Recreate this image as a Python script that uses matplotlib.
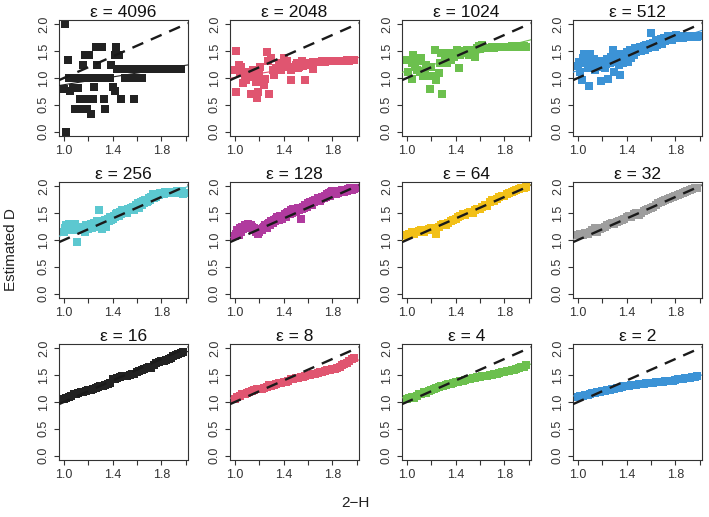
import matplotlib
matplotlib.use("Agg")
import matplotlib.pyplot as plt
import numpy as np

plt.rcParams['font.family'] = ['Liberation Sans', 'DejaVu Sans']

# panel labels and colours (R palette, as seen in the picture)
eps_labels = ["4096", "2048", "1024", "512", "256", "128", "64", "32", "16", "8", "4", "2"]
colors = ["#222222", "#E05570", "#6CC04E", "#3C93D6", "#5CC8D0", "#B03A9E",
          "#F2C018", "#9E9E9E", "#222222", "#E05570", "#6CC04E", "#3C93D6"]

# shared x grids (2-H)
x_fine = [1.00, 1.01, 1.02, 1.03, 1.04, 1.05, 1.06, 1.07, 1.08, 1.09,
          1.10, 1.11, 1.12, 1.13, 1.14, 1.15, 1.16, 1.17, 1.18, 1.19,
          1.20, 1.21, 1.22, 1.23, 1.24, 1.25, 1.26, 1.27, 1.28, 1.29,
          1.30, 1.31, 1.32, 1.33, 1.34, 1.35, 1.36, 1.37, 1.38, 1.39,
          1.40, 1.41, 1.42, 1.43, 1.44, 1.45, 1.46, 1.47, 1.48, 1.49,
          1.50, 1.51, 1.52, 1.53, 1.54, 1.55, 1.56, 1.57, 1.58, 1.59,
          1.60, 1.61, 1.62, 1.63, 1.64, 1.65, 1.66, 1.67, 1.68, 1.69,
          1.70, 1.71, 1.72, 1.73, 1.74, 1.75, 1.76, 1.77, 1.78, 1.79,
          1.80, 1.81, 1.82, 1.83, 1.84, 1.85, 1.86, 1.87, 1.88, 1.89,
          1.90, 1.91, 1.92, 1.93, 1.94, 1.95, 1.96, 1.97, 1.98, 1.99]
x_coarse = [1.00, 1.02, 1.04, 1.06, 1.08, 1.10, 1.12, 1.14, 1.16, 1.18,
            1.20, 1.22, 1.24, 1.26, 1.28, 1.30, 1.32, 1.34, 1.36, 1.38,
            1.40, 1.42, 1.44, 1.46, 1.48, 1.50, 1.52, 1.54, 1.56, 1.58,
            1.60, 1.62, 1.64, 1.66, 1.68, 1.70, 1.72, 1.74, 1.76, 1.78,
            1.80, 1.82, 1.84, 1.86, 1.88, 1.90, 1.92, 1.94, 1.96, 1.98]

# eps = 4096
x_4096 = [1.01, 1.02, 1.03, 1.00, 1.05, 1.075, 1.04, 1.06, 1.08, 1.10,
          1.12, 1.14, 1.16, 1.12, 1.09, 1.13, 1.14, 1.16, 1.17, 1.18,
          1.19, 1.21, 1.21, 1.22, 1.21, 1.24, 1.25, 1.23, 1.26, 1.27,
          1.31, 1.30, 1.32, 1.34, 1.36, 1.38, 1.33, 1.34, 1.39, 1.40,
          1.42, 1.43, 1.42, 1.45, 1.44, 1.47, 1.50, 1.52, 1.54, 1.58,
          1.60, 1.62, 1.64,
          1.46, 1.48, 1.50, 1.52, 1.54, 1.56, 1.58, 1.60, 1.62, 1.64,
          1.66, 1.68, 1.70, 1.72, 1.74, 1.76, 1.78, 1.80, 1.82, 1.84,
          1.86, 1.88, 1.90, 1.92, 1.94, 1.96]
y_4096 = [2.00, 0.00, 1.33, 0.80, 0.76, 0.82, 1.00, 1.00, 1.00, 1.00,
          1.00, 1.00, 1.00, 0.82, 0.43, 0.60, 0.43, 1.25, 1.42, 0.60,
          0.43, 1.42, 0.60, 0.33, 1.00, 0.60, 0.83, 1.00, 1.58, 1.25,
          1.58, 1.00, 1.00, 1.00, 1.00, 1.00, 0.60, 0.42, 1.25, 0.83,
          0.75, 1.58, 1.42, 1.42, 1.17, 0.60, 1.00, 1.00, 1.00, 0.60,
          1.00, 1.00, 1.00,
          1.17, 1.17, 1.17, 1.17, 1.17, 1.17, 1.17, 1.17, 1.17, 1.17,
          1.17, 1.17, 1.17, 1.17, 1.17, 1.17, 1.17, 1.17, 1.17, 1.17,
          1.17, 1.17, 1.17, 1.17, 1.17, 1.17]

# eps = 2048
x_2048 = [1.00, 1.01, 1.01, 1.03, 1.04, 1.05, 1.07, 1.08, 1.09, 1.10,
          1.13, 1.14, 1.15, 1.17, 1.18, 1.19, 1.20, 1.21, 1.23, 1.24,
          1.25, 1.26, 1.27, 1.28, 1.30, 1.31, 1.32, 1.34, 1.36, 1.38,
          1.40, 1.42, 1.43, 1.44, 1.46, 1.46, 1.48, 1.50, 1.51, 1.52,
          1.53, 1.55, 1.56, 1.58, 1.60, 1.62, 1.64,
          1.62, 1.64, 1.66, 1.68, 1.70, 1.72, 1.74, 1.76, 1.78, 1.80,
          1.82, 1.84, 1.86, 1.88, 1.90, 1.92, 1.94, 1.96, 1.98]
y_2048 = [1.14, 1.50, 0.74, 1.25, 1.12, 1.21, 0.91, 1.03, 0.96, 1.12,
          0.71, 1.01, 1.15, 0.93, 0.62, 0.74, 1.06, 1.21, 0.96, 0.87,
          0.98, 1.48, 1.31, 0.71, 1.37, 1.15, 1.06, 1.18, 1.28, 1.15,
          1.37, 1.25, 1.31, 1.20, 0.96, 1.15, 1.21, 1.25, 1.28, 1.18,
          1.21, 1.31, 1.22, 0.96, 1.25, 1.28, 1.17,
          1.28, 1.29, 1.30, 1.29, 1.30, 1.31, 1.30, 1.31, 1.31, 1.32,
          1.31, 1.32, 1.32, 1.31, 1.32, 1.33, 1.32, 1.33, 1.33]

# eps = 1024
x_1024 = [1.00, 1.01, 1.04, 1.04, 1.05, 1.07, 1.08, 1.09, 1.11, 1.12,
          1.13, 1.15, 1.16, 1.17, 1.19, 1.20, 1.21, 1.23, 1.24, 1.26,
          1.27, 1.28, 1.29, 1.31, 1.33, 1.35, 1.36, 1.37, 1.39, 1.41,
          1.43, 1.44, 1.47, 1.49, 1.51, 1.53, 1.56, 1.59, 1.62, 1.45,
          1.48, 1.52, 1.55, 1.58,
          1.60, 1.62, 1.64, 1.66, 1.68, 1.70, 1.72, 1.74, 1.76, 1.78,
          1.80, 1.82, 1.84, 1.86, 1.88, 1.90, 1.92, 1.94, 1.96, 1.98]
y_1024 = [1.34, 1.12, 0.99, 1.28, 1.43, 1.21, 1.15, 1.31, 1.12, 1.37,
          1.03, 1.12, 1.25, 1.03, 0.80, 1.21, 1.03, 1.53, 0.96, 1.09,
          1.28, 1.47, 0.71, 1.37, 1.28, 1.47, 1.34, 1.43, 1.40, 1.53,
          1.18, 1.43, 1.47, 1.53, 1.43, 1.53, 1.40, 1.59, 1.62, 1.48,
          1.50, 1.46, 1.52, 1.55,
          1.54, 1.55, 1.56, 1.55, 1.56, 1.57, 1.56, 1.57, 1.58, 1.57,
          1.58, 1.58, 1.57, 1.59, 1.58, 1.59, 1.58, 1.59, 1.59, 1.58]

# eps = 512, 256, 128 on x_fine
y_512 = [1.22, 1.30, 1.12, 0.96, 1.38, 1.45, 1.28, 1.40, 1.18, 0.85,
         1.45, 1.30, 1.22, 1.35, 1.15, 1.28, 1.20, 1.25, 1.32, 0.95,
         1.22, 1.30, 1.18, 1.26, 1.35, 0.98, 1.28, 1.40, 1.30, 1.52,
         1.12, 1.45, 1.30, 1.38, 1.25, 1.06, 1.35, 1.28, 1.45, 1.40,
         1.48, 1.30, 1.45, 1.52, 1.38, 1.50, 1.42, 1.55, 1.48, 1.50,
         1.52, 1.58, 1.50, 1.55, 1.60, 1.52, 1.62, 1.58, 1.55, 1.63,
         1.84, 1.60, 1.65, 1.58, 1.68, 1.62, 1.70, 1.66, 1.72, 1.64,
         1.70, 1.75, 1.68, 1.74, 1.78, 1.72, 1.76, 1.70, 1.78, 1.74,
         1.76, 1.80, 1.74, 1.78, 1.76, 1.79, 1.75, 1.77, 1.78, 1.76,
         1.77, 1.78, 1.76, 1.79, 1.77, 1.78, 1.76, 1.78, 1.77, 1.78]
y_256 = [1.15, 1.22, 1.28, 1.18, 1.30, 1.25, 1.20, 1.28, 1.22, 1.30,
         1.18, 0.97, 1.25, 1.22, 1.20, 1.18, 1.25, 1.15, 1.28, 1.22,
         1.20, 1.25, 1.30, 1.22, 1.28, 1.32, 1.25, 1.35, 1.30, 1.56,
         1.28, 1.20, 1.35, 1.30, 1.38, 1.25, 1.40, 1.35, 1.42, 1.38,
         1.40, 1.45, 1.42, 1.48, 1.50, 1.45, 1.52, 1.48, 1.55, 1.50,
         1.52, 1.55, 1.50, 1.58, 1.55, 1.60, 1.58, 1.62, 1.55, 1.65,
         1.62, 1.68, 1.60, 1.70, 1.65, 1.72, 1.68, 1.75, 1.70, 1.72,
         1.78, 1.75, 1.80, 1.85, 1.78, 1.82, 1.80, 1.86, 1.84, 1.88,
         1.85, 1.88, 1.86, 1.90, 1.87, 1.89, 1.88, 1.90, 1.87, 1.89,
         1.88, 1.90, 1.89, 1.91, 1.88, 1.90, 1.89, 1.91, 1.85, 1.88]
y_128 = [1.08, 1.12, 1.18, 1.10, 1.22, 1.15, 1.25, 1.20, 1.28, 1.22,
         1.25, 1.30, 1.22, 1.28, 1.25, 1.20, 1.22, 1.15, 1.18, 1.12,
         1.15, 1.20, 1.18, 1.22, 1.25, 1.28, 1.22, 1.30, 1.32, 1.28,
         1.35, 1.32, 1.38, 1.35, 1.40, 1.42, 1.38, 1.45, 1.42, 1.40,
         1.45, 1.48, 1.42, 1.50, 1.52, 1.48, 1.55, 1.50, 1.58, 1.55,
         1.52, 1.58, 1.60, 1.55, 1.40, 1.58, 1.62, 1.60, 1.65, 1.62,
         1.68, 1.65, 1.70, 1.66, 1.72, 1.70, 1.75, 1.72, 1.78, 1.74,
         1.72, 1.76, 1.80, 1.78, 1.82, 1.80, 1.85, 1.88, 1.82, 1.90,
         1.92, 1.85, 1.88, 1.86, 1.90, 1.88, 1.92, 1.90, 1.94, 1.92,
         1.90, 1.94, 1.92, 1.95, 1.93, 1.96, 1.94, 1.97, 1.95, 1.96]

# eps = 64 ... 2 on x_coarse
y_64 = [1.10, 1.12, 1.14, 1.12, 1.15, 1.16, 1.18, 1.15, 1.18, 1.20,
        1.22, 1.18, 1.12, 1.25, 1.28, 1.30, 1.28, 1.32, 1.35, 1.38,
        1.40, 1.42, 1.45, 1.48, 1.46, 1.50, 1.52, 1.50, 1.55, 1.58,
        1.58, 1.62, 1.66, 1.64, 1.70, 1.74, 1.72, 1.76, 1.80, 1.82,
        1.82, 1.85, 1.88, 1.90, 1.92, 1.94, 1.95, 1.96, 1.97, 1.98]
y_32 = [1.10, 1.12, 1.10, 1.13, 1.12, 1.15, 1.18, 1.22, 1.15, 1.20,
        1.22, 1.25, 1.28, 1.30, 1.32, 1.30, 1.33, 1.35, 1.38, 1.40,
        1.42, 1.45, 1.42, 1.48, 1.50, 1.47, 1.50, 1.54, 1.56, 1.58,
        1.60, 1.62, 1.66, 1.68, 1.70, 1.72, 1.74, 1.76, 1.78, 1.80,
        1.82, 1.84, 1.86, 1.88, 1.90, 1.92, 1.94, 1.95, 1.96, 1.97]
y_16 = [1.05, 1.08, 1.10, 1.12, 1.14, 1.15, 1.16, 1.18, 1.18, 1.20,
        1.22, 1.22, 1.25, 1.26, 1.28, 1.30, 1.30, 1.32, 1.34, 1.36,
        1.42, 1.43, 1.45, 1.46, 1.48, 1.48, 1.49, 1.50, 1.52, 1.52,
        1.55, 1.58, 1.60, 1.62, 1.64, 1.66, 1.64, 1.68, 1.72, 1.74,
        1.76, 1.76, 1.78, 1.80, 1.82, 1.85, 1.87, 1.90, 1.92, 1.93]
y_8 = [1.06, 1.10, 1.12, 1.14, 1.15, 1.16, 1.18, 1.20, 1.22, 1.24,
       1.25, 1.24, 1.26, 1.28, 1.32, 1.30, 1.31, 1.33, 1.35, 1.36,
       1.37, 1.38, 1.40, 1.42, 1.42, 1.44, 1.45, 1.46, 1.47, 1.48,
       1.50, 1.51, 1.52, 1.53, 1.54, 1.55, 1.56, 1.58, 1.60, 1.60,
       1.61, 1.62, 1.64, 1.66, 1.68, 1.70, 1.72, 1.76, 1.80, 1.82]
y_4 = [1.06, 1.08, 1.10, 1.08, 1.12, 1.14, 1.15, 1.18, 1.16, 1.20,
       1.22, 1.24, 1.26, 1.28, 1.30, 1.30, 1.32, 1.33, 1.34, 1.36,
       1.37, 1.38, 1.39, 1.40, 1.41, 1.42, 1.43, 1.44, 1.45, 1.46,
       1.47, 1.48, 1.49, 1.49, 1.50, 1.51, 1.52, 1.53, 1.54, 1.55,
       1.56, 1.57, 1.58, 1.59, 1.60, 1.61, 1.63, 1.65, 1.66, 1.68]
y_2 = [1.10, 1.11, 1.12, 1.13, 1.13, 1.15, 1.16, 1.17, 1.18, 1.18,
       1.20, 1.21, 1.22, 1.23, 1.24, 1.25, 1.26, 1.27, 1.28, 1.29,
       1.30, 1.30, 1.31, 1.32, 1.32, 1.33, 1.34, 1.34, 1.35, 1.35,
       1.36, 1.36, 1.37, 1.37, 1.38, 1.38, 1.39, 1.39, 1.40, 1.40,
       1.41, 1.42, 1.42, 1.43, 1.44, 1.44, 1.45, 1.46, 1.47, 1.48]

panel_x = [x_4096, x_2048, x_1024, x_fine, x_fine, x_fine,
           x_coarse, x_coarse, x_coarse, x_coarse, x_coarse, x_coarse]
panel_y = [y_4096, y_2048, y_1024, y_512, y_256, y_128,
           y_64, y_32, y_16, y_8, y_4, y_2]

x_ticks = [1.0, 1.2, 1.4, 1.6, 1.8, 2.0]
x_ticklabels = ["1.0", "", "1.4", "", "1.8", ""]
y_ticks = [0.0, 0.5, 1.0, 1.5, 2.0]
y_ticklabels = ["0.0", "0.5", "1.0", "1.5", "2.0"]

W, H = 709, 517
fig = plt.figure(figsize=(W / 100, H / 100), dpi=100)

col_left = [59, 230, 402, 573]
row_top = [20, 182, 344]
box_w, box_h = 129, 116
axis_col = "#333333"

for i in range(12):
    r, c = divmod(i, 4)
    ax = fig.add_axes([col_left[c] / W, (H - row_top[r] - box_h) / H, box_w / W, box_h / H])
    xs = np.array(panel_x[i])
    ys = np.array(panel_y[i])
    ax.scatter(xs, ys, marker='s', s=28, color=colors[i], linewidths=0, zorder=2)
    slope, inter = np.polyfit(xs, ys, 1)
    ax.axline((1.0, inter + slope), slope=slope, color=colors[i], lw=0.8, zorder=3)
    ax.axline((1.0, 1.0), slope=1.0, color="#1a1a1a", lw=1.7, ls=(0, (5, 3.5)), zorder=4)
    ax.set_xlim(0.96, 2.02)
    ax.set_ylim(-0.08, 2.08)
    ax.set_xticks(x_ticks)
    ax.set_xticklabels(x_ticklabels)
    ax.set_yticks(y_ticks)
    ax.set_yticklabels(y_ticklabels, rotation=90, va='center')
    ax.tick_params(length=3.6, width=0.8, color=axis_col, labelcolor=axis_col,
                   labelsize=9, pad=3)
    for sp in ax.spines.values():
        sp.set_color(axis_col)
        sp.set_linewidth(0.8)
    ax.set_title("\u03b5 = " + eps_labels[i], fontsize=12.5, pad=2, color="#111111")

fig.text(11 / W, 1 - 250 / H, "Estimated D", rotation=90, ha='center', va='center',
         fontsize=11, color="#222222")
fig.text(355 / W, 1 - 503 / H, "2\u2212H", ha='center', va='center',
         fontsize=11, color="#222222")

fig.savefig("out.png", dpi=100)
